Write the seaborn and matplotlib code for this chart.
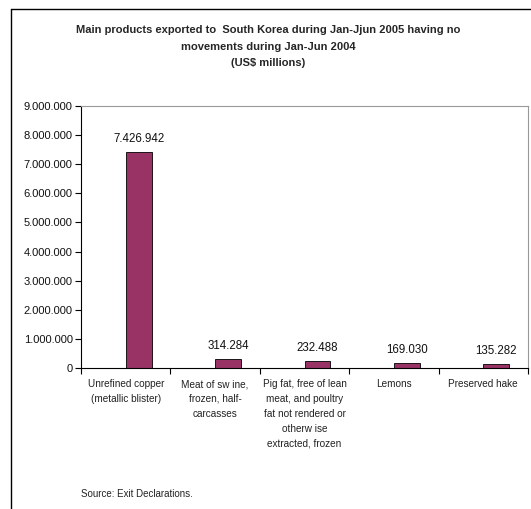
import matplotlib
matplotlib.use("Agg")
import matplotlib.pyplot as plt
from matplotlib.lines import Line2D
from matplotlib.ticker import FuncFormatter, FixedLocator
import seaborn as sns
import pandas as pd

sns.set_theme(style="white")
plt.rcParams["font.family"] = ["Liberation Sans", "DejaVu Sans"]

# Products and export values (US$), Jan-Jun 2004 had no movements
products = [
    "Unrefined copper\n(metallic blister)",
    "Meat of sw ine,\nfrozen, half-\ncarcasses",
    "Pig fat, free of lean\nmeat, and poultry\nfat not rendered or\notherw ise\nextracted, frozen",
    "Lemons",
    "Preserved hake",
]
values_2004 = [0, 0, 0, 0, 0]
values_2005 = [7426942, 314284, 232488, 169030, 135282]
periods = ["Jan-Jun 2004", "Jan-Jun 2005"]
y_ticks = [0, 1000000, 2000000, 3000000, 4000000, 5000000, 6000000, 7000000, 8000000, 9000000]

df = pd.DataFrame({
    "product": products * 2,
    "value": values_2004 + values_2005,
    "period": [periods[0]] * len(products) + [periods[1]] * len(products),
})

W, H = 531, 509
fig = plt.figure(figsize=(W / 100, H / 100), dpi=100)
ax = fig.add_axes([81 / W, 1 - 368 / H, (528 - 81) / W, (368 - 106) / H])

sns.barplot(data=df, x="product", y="value", hue="period", order=products,
            hue_order=periods, palette=["#993366", "#993366"], width=0.58,
            saturation=1, edgecolor="black", linewidth=0.6, legend=False, ax=ax)

# zero-height 2004 bars stay invisible
for patch in ax.containers[0]:
    patch.set_linewidth(0)

def dotted(v):
    return f"{int(round(v)):,}".replace(",", ".")

for bar, v in zip(ax.containers[1], values_2005):
    ax.text(bar.get_x() + bar.get_width() / 2, v + 250000, dotted(v),
            ha="center", va="bottom", fontsize=8.3, color="#111111")

ax.set_ylim(0, 9000000)
ax.set_xlim(-0.5, len(products) - 0.5)
ax.yaxis.set_major_locator(FixedLocator(y_ticks))
ax.yaxis.set_major_formatter(FuncFormatter(lambda v, p: dotted(v)))
ax.tick_params(axis="y", which="major", direction="out", length=4, width=0.8,
               color="black", labelsize=8, labelcolor="#111111", pad=2, left=True)

# category separators as major ticks, labels on minor ticks
ax.xaxis.set_major_locator(FixedLocator([i - 0.5 for i in range(len(products) + 1)]))
ax.xaxis.set_minor_locator(FixedLocator(list(range(len(products)))))
ax.set_xticklabels([], minor=False)
ax.set_xticklabels(products, minor=True, fontsize=7.2, color="#222222", linespacing=1.6)
ax.tick_params(axis="x", which="major", direction="out", length=4, width=0.8,
               color="black", bottom=True)
ax.tick_params(axis="x", which="minor", length=0, pad=8, labelsize=7.2)
for lbl in ax.get_xticklabels(minor=True):
    lbl.set_verticalalignment("top")
    lbl.set_horizontalalignment("center")

ax.set_xlabel("")
ax.set_ylabel("")
for side in ["left", "bottom"]:
    ax.spines[side].set_color("black")
    ax.spines[side].set_linewidth(0.8)
for side in ["top", "right"]:
    ax.spines[side].set_visible(True)
    ax.spines[side].set_color("#999999")
    ax.spines[side].set_linewidth(0.8)

fig.text(268 / W, 1 - 30 / H,
         "Main products exported to  South Korea during Jan-Jjun 2005 having no",
         ha="center", va="center", fontsize=8, fontweight="bold")
fig.text(268 / W, 1 - 47 / H, "movements during Jan-Jun 2004",
         ha="center", va="center", fontsize=8, fontweight="bold")
fig.text(268 / W, 1 - 63 / H, "(US$ millions)",
         ha="center", va="center", fontsize=8, fontweight="bold")

fig.text(81 / W, 1 - 494 / H, "Source: Exit Declarations.",
         ha="left", va="center", fontsize=7, color="#222222")

# outer chart frame
fig.add_artist(Line2D([11 / W, 1.0], [1 - 9 / H, 1 - 9 / H], transform=fig.transFigure,
                      color="black", linewidth=1.0))
fig.add_artist(Line2D([11 / W, 11 / W], [0.0, 1 - 9 / H], transform=fig.transFigure,
                      color="black", linewidth=1.0))

fig.savefig("out.png", dpi=100)
